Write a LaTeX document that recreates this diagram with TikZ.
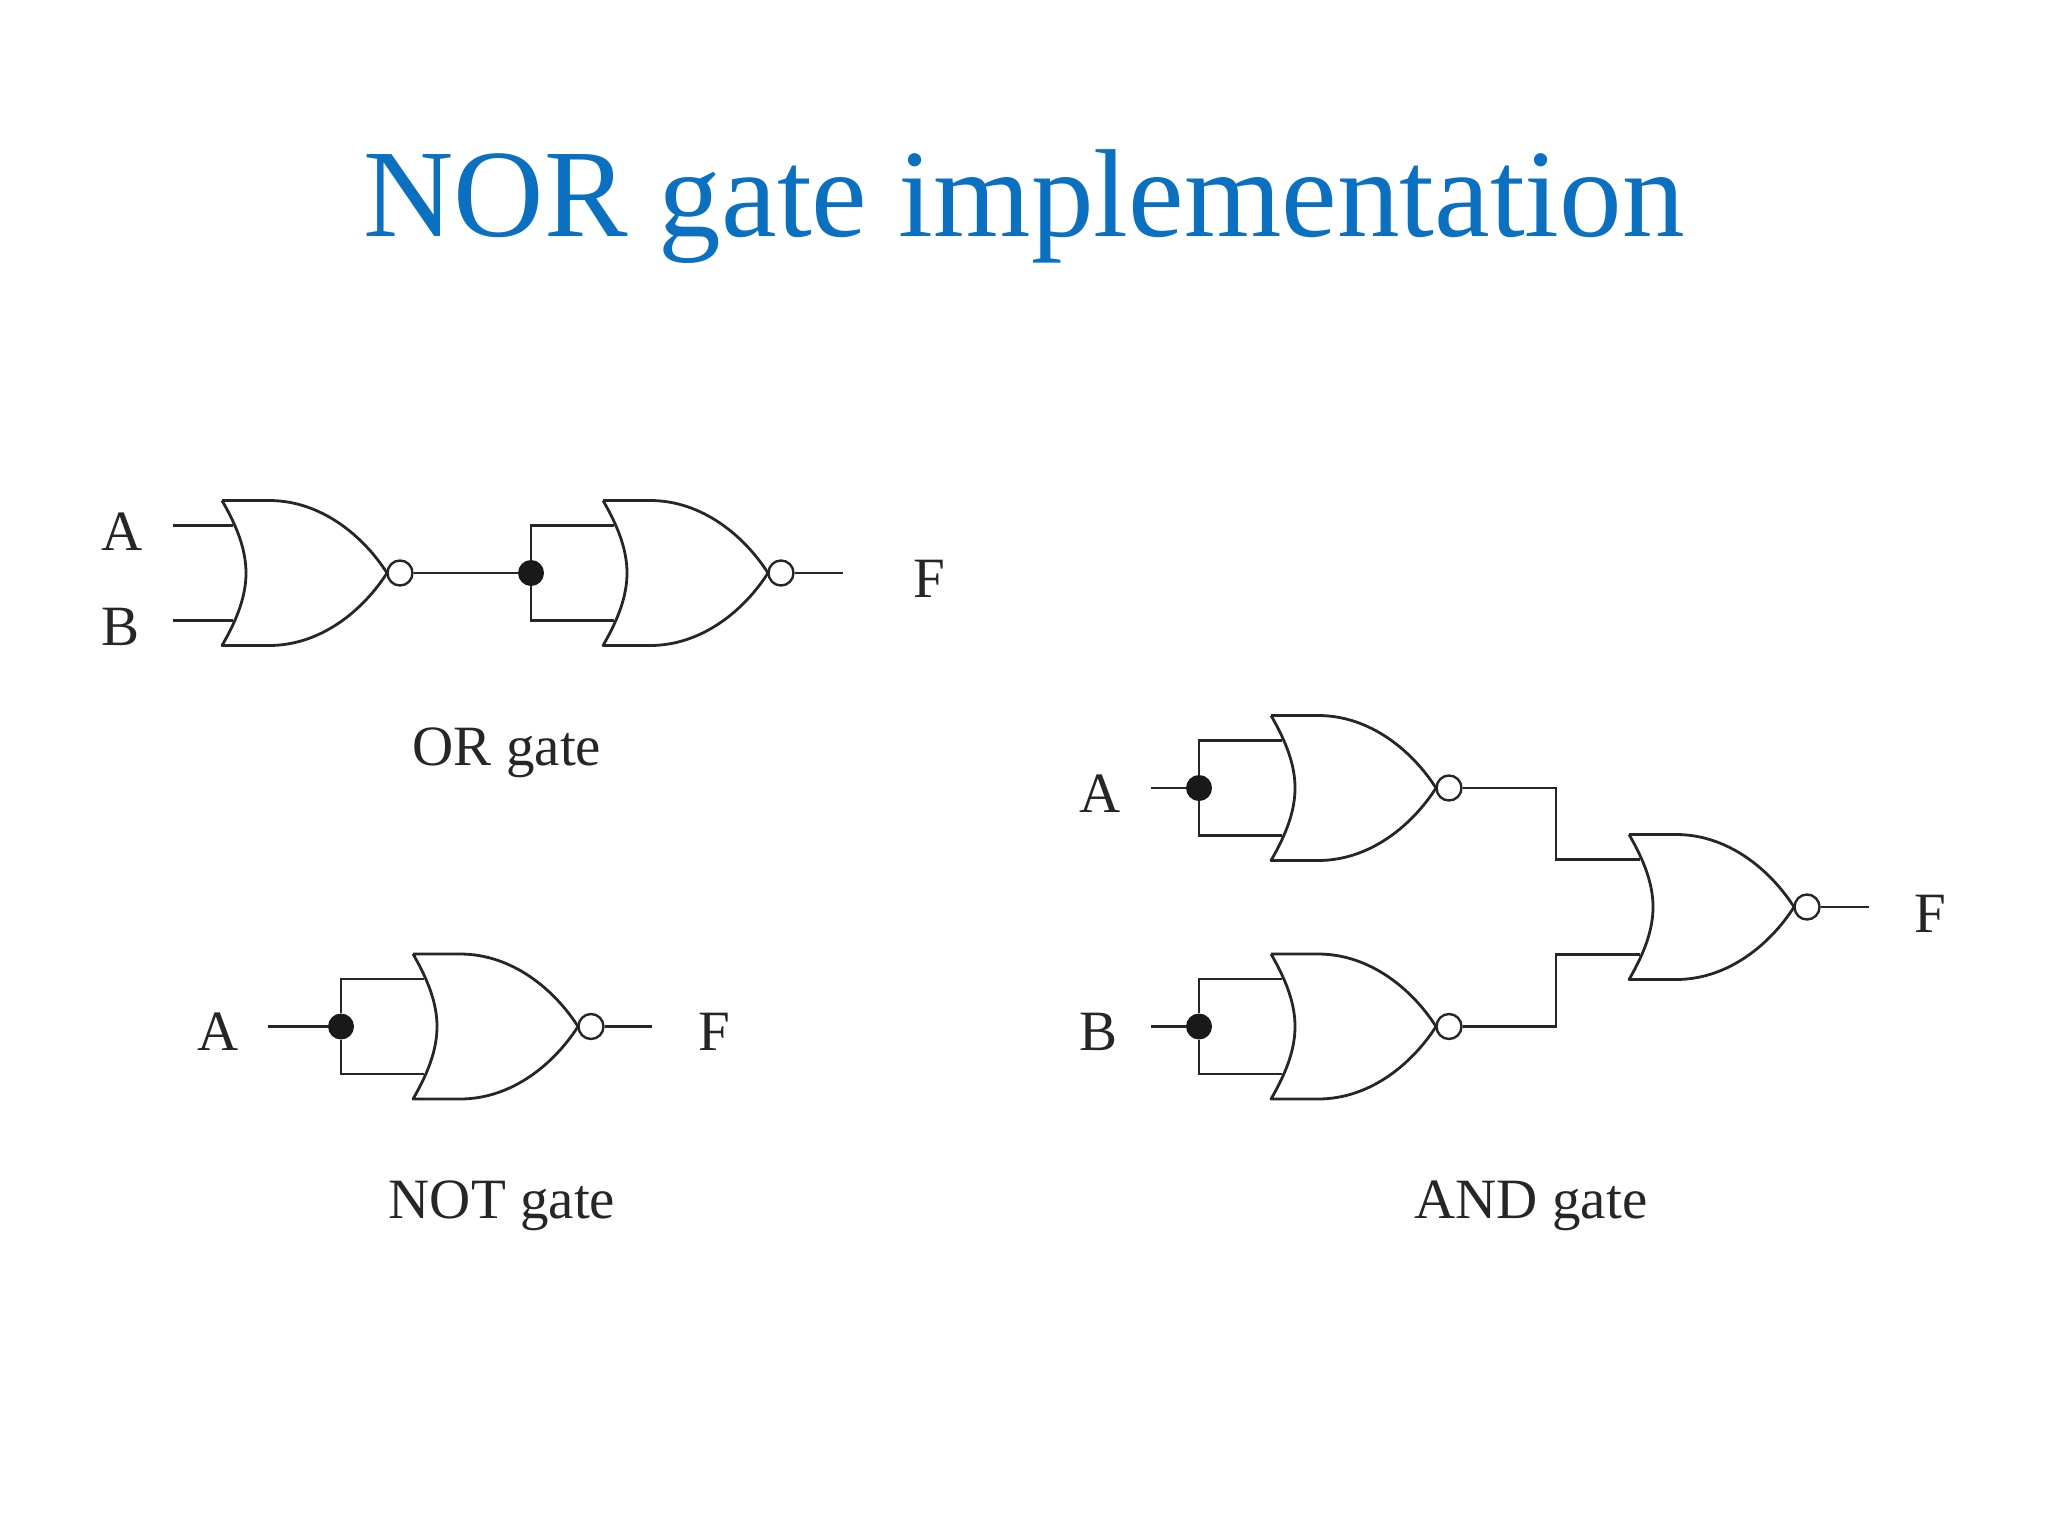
\documentclass[tikz,border=0pt]{standalone}
\usepackage{xcolor}
\usepackage{fontspec}
\setmainfont{Liberation Serif}
\usepackage{tikz}
\definecolor{titleblue}{HTML}{0B70C0}
\definecolor{inkgray}{HTML}{262626}

\begin{document}
\begin{tikzpicture}[
  x=0.5pt, y=-0.5pt,
  wire/.style={draw=inkgray, line width=1.4pt},
  title/.style={font=\fontsize{62.6}{70}\selectfont, text=titleblue, anchor=base, inner sep=0pt},
  signal/.style={font=\fontsize{28.5}{32}\selectfont, text=inkgray, anchor=base, inner sep=0pt},
  caption/.style={font=\fontsize{28.5}{32}\selectfont, text=inkgray, anchor=base, inner sep=0pt},
  bubble/.style={circle, draw=inkgray, fill=white, line width=1.2pt, minimum size=12.5pt, inner sep=0pt},
  dot/.style={circle, fill=black!90, minimum size=13pt, inner sep=0pt},
  norgate/.pic={
    \draw[wire, line join=round] (0,-72.5) -- (47,-72.5)
      .. controls (100,-72.5) and (142,-36) .. (165,0)
      .. controls (142,36) and (100,72.5) .. (47,72.5)
      -- (0,72.5)
      .. controls (16,45) and (24,22) .. (24,0)
      .. controls (24,-22) and (16,-45) .. (0,-72.5);
    \coordinate (-a) at (11,-47.5);
    \coordinate (-b) at (11,47.5);
    \node[bubble] (-o) at (178,0) {};
  }
]
  \useasboundingbox (0,0) rectangle (2048,1536);
  \node[title] (heading) at (1024,236) {NOR gate implementation};

  % OR gate
  \pic (g1) at (222,573) {norgate};
  \pic (g2) at (603,573) {norgate};
  \node[dot] (j1) at (531,573) {};
  \coordinate (ina) at (173,525.5);
  \coordinate (inb) at (173,620.5);
  \coordinate (out1) at (843,573);
  \node[signal] (la1) at (122,550) {A};
  \node[signal] (lb1) at (121,645) {B};
  \node[signal] (lf1) at (929,597) {F};
  \node[caption] (capor) at (507,765) {OR gate};

  % NOT gate
  \pic (g3) at (413,1026.5) {norgate};
  \node[dot] (j2) at (341,1026.5) {};
  \coordinate (in2) at (268,1026.5);
  \coordinate (out2) at (652,1026.5);
  \node[signal] (la2) at (218,1050) {A};
  \node[signal] (lf2) at (714,1050) {F};
  \node[caption] (capnot) at (502,1218) {NOT gate};

  % AND gate
  \pic (g4) at (1271,788) {norgate};
  \pic (g5) at (1271,1026.5) {norgate};
  \pic (g6) at (1629,907) {norgate};
  \node[dot] (j3) at (1199,788) {};
  \node[dot] (j4) at (1199,1026.5) {};
  \coordinate (in3) at (1151,788);
  \coordinate (in4) at (1151,1026.5);
  \coordinate (out3) at (1869,907);
  \coordinate (m1) at (1556,788);
  \coordinate (m2) at (1556,1026.5);
  \node[signal] (la3) at (1100,812) {A};
  \node[signal] (lb3) at (1098,1050) {B};
  \node[signal] (lf3) at (1930,932) {F};
  \node[caption] (capand) at (1531,1218) {AND gate};

  % Wires
  \draw[wire] (ina) -- (g1-a);
  \draw[wire] (inb) -- (g1-b);
  \draw[wire] (g1-o) -- (j1);
  \draw[wire] (j1) |- (g2-a);
  \draw[wire] (j1) |- (g2-b);
  \draw[wire] (g2-o) -- (out1);

  \draw[wire] (in2) -- (j2);
  \draw[wire] (j2) |- (g3-a);
  \draw[wire] (j2) |- (g3-b);
  \draw[wire] (g3-o) -- (out2);

  \draw[wire] (in3) -- (j3);
  \draw[wire] (j3) |- (g4-a);
  \draw[wire] (j3) |- (g4-b);
  \draw[wire] (in4) -- (j4);
  \draw[wire] (j4) |- (g5-a);
  \draw[wire] (j4) |- (g5-b);
  \draw[wire] (g4-o) -- (m1) |- (g6-a);
  \draw[wire] (g5-o) -- (m2) |- (g6-b);
  \draw[wire] (g6-o) -- (out3);
\end{tikzpicture}
\end{document}
